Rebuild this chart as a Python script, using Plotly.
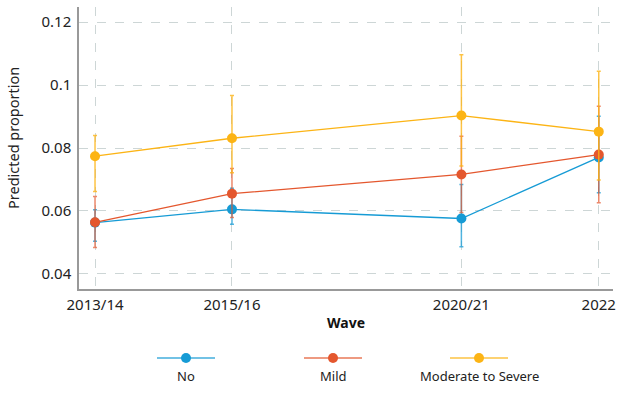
import plotly.graph_objects as go

# ---- data ----
wave_labels = ["2013/14", "2015/16", "2020/21", "2022"]
wave_x = [0.0, 1.0, 2.675, 3.678]

series_names = ["No", "Mild", "Moderate to Severe"]
no_est = [0.0563, 0.0605, 0.0576, 0.0770]
no_lo = [0.0504, 0.0558, 0.0486, 0.0658]
no_hi = [0.0604, 0.0672, 0.0684, 0.0901]

mild_est = [0.0564, 0.0655, 0.0716, 0.0779]
mild_lo = [0.0484, 0.0579, 0.0595, 0.0626]
mild_hi = [0.0646, 0.0735, 0.0837, 0.0933]

mod_est = [0.0774, 0.0831, 0.0903, 0.0852]
mod_lo = [0.0662, 0.0721, 0.0743, 0.0698]
mod_hi = [0.0840, 0.0967, 0.1096, 0.1044]

y_ticks = [0.04, 0.06, 0.08, 0.1, 0.12]
y_tick_text = ["0.04", "0.06", "0.08", "0.1", "0.12"]

colors = ["#169bd5", "#e4572e", "#fcb415"]
err_colors = ["rgba(22,155,213,0.75)", "rgba(228,87,46,0.7)", "rgba(252,180,21,0.8)"]
FONT = "Noto Sans"

fig = go.Figure()
for name, est, lo, hi, col, ecol in zip(series_names,
                                        [no_est, mild_est, mod_est],
                                        [no_lo, mild_lo, mod_lo],
                                        [no_hi, mild_hi, mod_hi], colors, err_colors):
    fig.add_trace(go.Scatter(
        x=wave_x, y=est, name=name, mode="lines+markers",
        line=dict(color=col, width=1.3),
        marker=dict(color=col, size=10),
        error_y=dict(type="data", symmetric=False,
                     array=[h - e for h, e in zip(hi, est)],
                     arrayminus=[e - l for e, l in zip(est, lo)],
                     color=ecol, thickness=1.5, width=2),
        showlegend=False,
    ))

# legend drawn manually: line with marker above label
leg_centers = [186, 333, 479]
W, H = 627, 404
L, R, T, B = 79, 14, 7, 115
pw, ph = W - L - R, H - T - B

def px_x(p):
    return (p - L) / pw

def px_y(p):
    return (H - B - p) / ph

for name, col, cx in zip(series_names, colors, leg_centers):
    fig.add_shape(type="line", xref="paper", yref="paper",
                  x0=px_x(cx - 29), x1=px_x(cx + 29), y0=px_y(358), y1=px_y(358),
                  line=dict(color=col, width=1.3), opacity=0.8)
    fig.add_shape(type="circle", xref="paper", yref="paper",
                  x0=px_x(cx - 5), x1=px_x(cx + 5), y0=px_y(363), y1=px_y(353),
                  fillcolor=col, line=dict(color=col, width=0))
    fig.add_annotation(x=px_x(cx), y=px_y(376), xref="paper", yref="paper",
                       text=name, showarrow=False, xanchor="center", yanchor="middle",
                       font=dict(family=FONT, size=13, color="#222"))

fig.add_annotation(x=px_x(13), y=px_y(138), xref="paper", yref="paper",
                   text="Predicted proportion", showarrow=False, textangle=-90,
                   xanchor="center", yanchor="middle",
                   font=dict(family=FONT, size=14.5, color="#222"))

fig.update_layout(
    width=W, height=H,
    margin=dict(l=L, r=R, t=T, b=B),
    plot_bgcolor="white", paper_bgcolor="white",
    font=dict(family=FONT, size=15, color="#222"),
    xaxis=dict(
        range=[-0.117, 3.782], tickvals=wave_x, ticktext=wave_labels,
        showgrid=True, gridcolor="#cdd6d6", griddash="dash", gridwidth=1,
        showline=True, linecolor="#999", linewidth=1.5, zeroline=False,
        ticks="", ticklabelstandoff=1,
        title=dict(text="<b>Wave</b>", font=dict(family=FONT, size=14, color="#111"), standoff=5),
    ),
    yaxis=dict(
        range=[0.0352, 0.1248], tickvals=y_ticks, ticktext=y_tick_text,
        showgrid=True, gridcolor="#cdd6d6", griddash="dash", gridwidth=1,
        showline=True, linecolor="#999", linewidth=1.5, zeroline=False,
        ticks="", ticklabelstandoff=3,
    ),
)

fig.write_html("out.html")
